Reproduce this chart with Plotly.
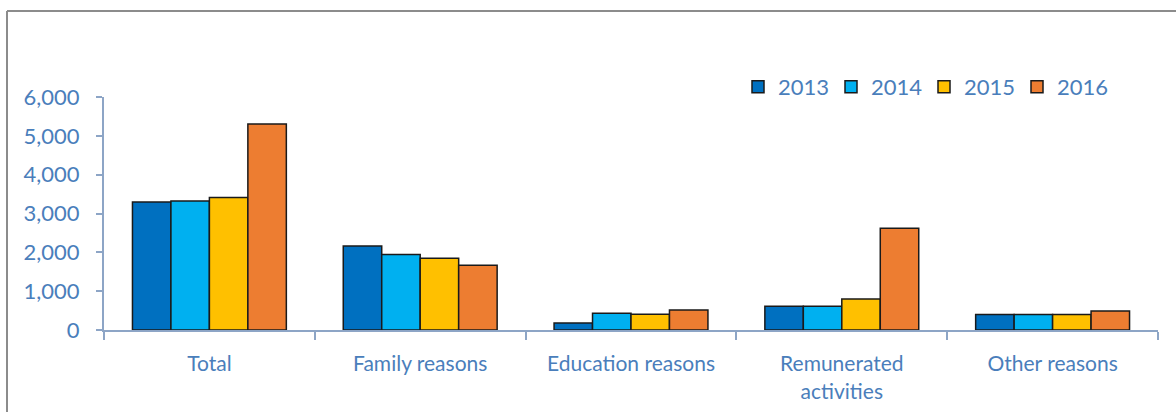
import plotly.graph_objects as go

categories = ["Total", "Family reasons", "Education reasons", "Remunerated<br>activities", "Other reasons"]
years = ["2013", "2014", "2015", "2016"]
v2013 = [3295, 2165, 180, 610, 397]
v2014 = [3320, 1945, 430, 610, 397]
v2015 = [3412, 1850, 405, 800, 397]
v2016 = [5305, 1668, 516, 2620, 490]
series = [v2013, v2014, v2015, v2016]
colors = ["#0070C0", "#00B0F0", "#FFC000", "#ED7D31"]

FONT = "Lato"
TXT = "#4A7EBB"

W, H = 1176, 412
L, R, T, B = 104, 18, 97, 82
pw, ph = W - L - R, H - T - B

def px2x(p):
    return (p - L) / pw

def py2y(p):
    return (H - B - p) / ph

fig = go.Figure()
for y, vals, c in zip(years, series, colors):
    fig.add_trace(go.Bar(
        name=y, x=categories, y=vals,
        marker=dict(color=c, line=dict(color="#1a1a1a", width=1.5)),
    ))

fig.update_layout(
    width=W, height=H,
    margin=dict(l=L, r=R, t=T, b=B),
    paper_bgcolor="white", plot_bgcolor="white",
    barmode="group", bargap=0.27, bargroupgap=0,
    font=dict(family=FONT, size=21, color=TXT),
    showlegend=True,
    legend=dict(
        orientation="h", x=px2x(738), y=py2y(87), xanchor="left", yanchor="middle",
        font=dict(family=FONT, size=22, color=TXT),
        bgcolor="rgba(0,0,0,0)", traceorder="normal",
        entrywidth=48, entrywidthmode="pixels",
    ),
    xaxis=dict(
        showline=True, linecolor="#8DA5C6", linewidth=2,
        ticks="outside", tickson="boundaries", ticklen=8, tickcolor="#8DA5C6", tickwidth=2,
        tickfont=dict(family=FONT, size=21, color=TXT),
        ticklabelstandoff=14, automargin=False,
        showgrid=False, fixedrange=True,
    ),
    yaxis=dict(
        range=[0, 6000], tickvals=[0, 1000, 2000, 3000, 4000, 5000, 6000],
        tickformat=",d",
        showline=True, linecolor="#8DA5C6", linewidth=2,
        ticks="outside", ticklen=6, tickcolor="#8DA5C6", tickwidth=2,
        tickfont=dict(family=FONT, size=22, color=TXT),
        ticklabelstandoff=12, automargin=False,
        showgrid=False, zeroline=False, fixedrange=True,
    ),
    shapes=[
        dict(type="line", xref="paper", yref="paper",
             x0=px2x(7), x1=px2x(7), y0=py2y(11), y1=py2y(H + 5),
             line=dict(color="#8C8C8C", width=2)),
        dict(type="line", xref="paper", yref="paper",
             x0=px2x(7), x1=px2x(W + 5), y0=py2y(11), y1=py2y(11),
             line=dict(color="#8C8C8C", width=2)),
    ],
)

fig.write_html("out.html")
